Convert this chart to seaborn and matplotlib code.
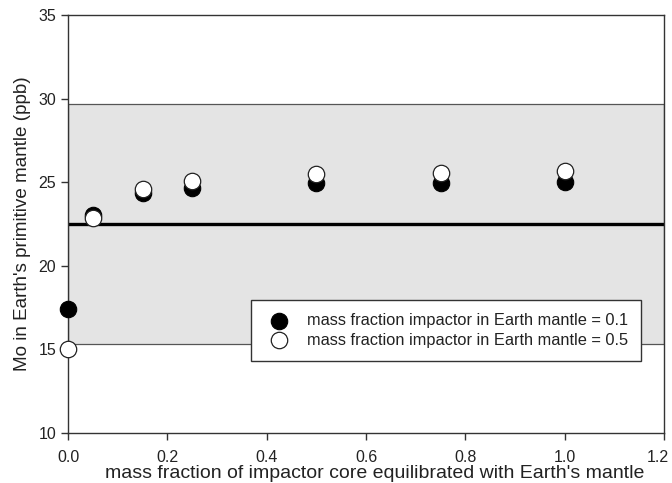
import matplotlib
matplotlib.use("Agg")
import matplotlib.pyplot as plt
import matplotlib.transforms as mtransforms
import seaborn as sns
import pandas as pd

# Mo concentration in Earth's primitive mantle vs. equilibrated core fraction
core_fraction = [0.0, 0.05, 0.15, 0.25, 0.5, 0.75, 1.0]
mo_impactor_01 = [17.4, 23.05, 24.35, 24.65, 24.95, 24.98, 25.04]
mo_impactor_05 = [15.0, 22.85, 24.58, 25.06, 25.48, 25.58, 25.65]

label_01 = "mass fraction impactor in Earth mantle = 0.1"
label_05 = "mass fraction impactor in Earth mantle = 0.5"

# Accepted primitive-mantle Mo estimate and its range
pm_estimate = 22.5
pm_low, pm_high = 15.35, 29.7

x_ticks = [0.0, 0.2, 0.4, 0.6, 0.8, 1.0, 1.2]
y_ticks = [10, 15, 20, 25, 30, 35]

df = pd.DataFrame({
    "core": core_fraction * 2,
    "mo": mo_impactor_01 + mo_impactor_05,
    "series": [label_01] * len(core_fraction) + [label_05] * len(core_fraction),
})

sns.set_theme(style="ticks")
plt.rcParams["font.family"] = ["Liberation Sans", "DejaVu Sans"]

fig = plt.figure(figsize=(6.72, 4.83), dpi=100)
ax = fig.add_axes([68 / 672, 50 / 483, 596 / 672, 418 / 483])

ax.axhspan(pm_low, pm_high, facecolor="#e4e4e4", edgecolor="#555555",
           linewidth=0.9, zorder=0)
ax.axhline(pm_estimate, color="black", linewidth=2.4, zorder=1)

sns.scatterplot(data=df[df["series"] == label_01], x="core", y="mo",
                color="black", edgecolor="black", linewidth=0.8, s=140,
                label=label_01, ax=ax, clip_on=False, zorder=5)
sns.scatterplot(data=df[df["series"] == label_05], x="core", y="mo",
                color="white", edgecolor="#222222", linewidth=0.9, s=140,
                label=label_05, ax=ax, clip_on=False, zorder=6)

ax.set_xlim(0, 1.2)
ax.set_ylim(10, 35)
ax.set_xticks(x_ticks)
ax.set_xticklabels([f"{v:.1f}" for v in x_ticks])
ax.set_yticks(y_ticks)
ax.set_yticklabels([str(v) for v in y_ticks])

ax.set_xlabel("mass fraction of impactor core equilibrated with Earth's mantle",
              fontsize=14, color="#222222", labelpad=0)
ax.xaxis.label.set_x(0.515)
ax.set_ylabel("Mo in Earth's primitive mantle (ppb)", fontsize=13.6,
              color="#222222", labelpad=5)

for side in ["left", "right", "top", "bottom"]:
    ax.spines[side].set_visible(True)
    ax.spines[side].set_color("#333333")
    ax.spines[side].set_linewidth(1.0)
ax.tick_params(axis="both", direction="out", length=5, width=1.0,
               color="#333333", labelsize=11.5, labelcolor="#222222",
               top=False, right=False)
ax.tick_params(axis="x", pad=7)

# keep the last x tick label inside the figure
last = ax.get_xticklabels()[-1]
last.set_transform(last.get_transform() +
                   mtransforms.ScaledTranslation(-6 / 100, 0, fig.dpi_scale_trans))

leg = ax.legend(loc="lower right", bbox_to_anchor=(0.961, 0.173),
                borderaxespad=0, frameon=True, fancybox=False,
                fontsize=11.8, handletextpad=0.8, borderpad=0.8,
                labelspacing=0.25, markerscale=1.0, handlelength=1.8)
leg.get_frame().set_edgecolor("#333333")
leg.get_frame().set_linewidth(1.0)
leg.get_frame().set_facecolor("white")
leg.get_frame().set_alpha(1.0)
for t in leg.get_texts():
    t.set_color("#222222")

fig.savefig("out.png", dpi=100)
